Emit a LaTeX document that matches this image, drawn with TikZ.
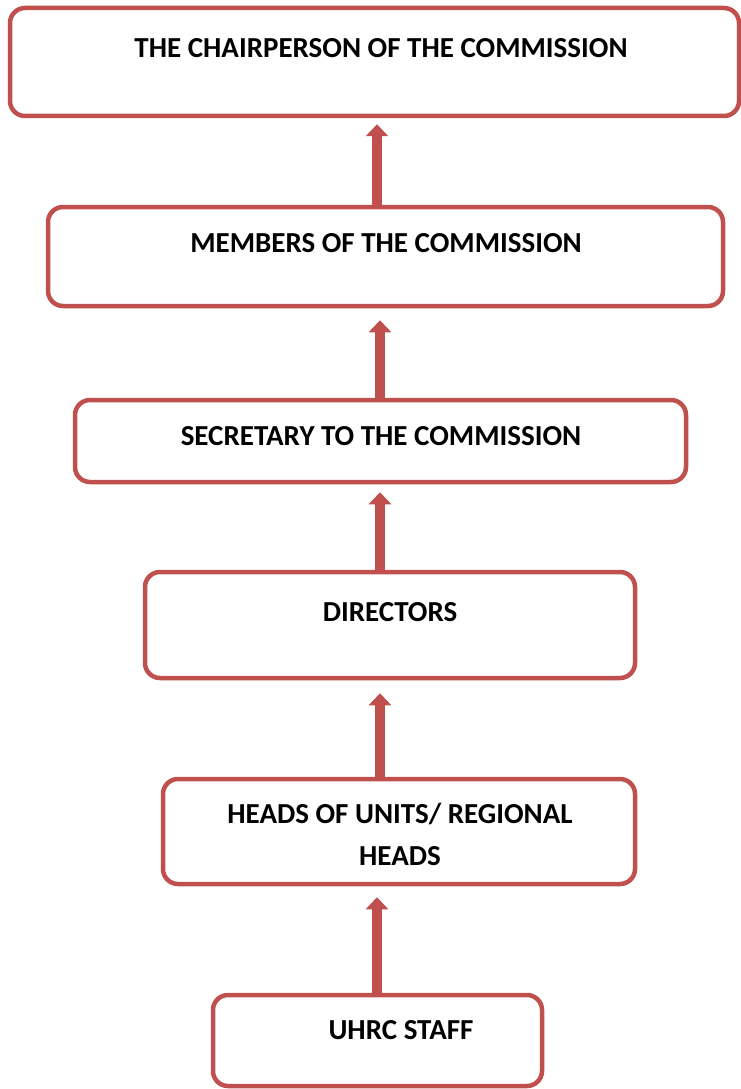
\documentclass[tikz,border=0pt]{standalone}
\usepackage{fontspec}
\setmainfont{Carlito}
\usetikzlibrary{arrows.meta}
\definecolor{boxred}{HTML}{C0504D}

\begin{document}
\begin{tikzpicture}[x=1pt, y=-1pt,
    box/.style={draw=boxred, line width=4.5pt, rounded corners=15pt,
      rectangle, inner sep=0pt},
    boxtext/.style={font=\fontsize{29}{42}\selectfont\bfseries, align=center,
      inner sep=0pt},
    uparrow/.style={draw=boxred, line width=10pt,
      -{Triangle[width=22pt, length=12pt]}, color=boxred}]
  \useasboundingbox (0,0) rectangle (740,1089);

  % boxes
  \node[box, minimum width=729pt, minimum height=108pt] (chair) at (374.5,62) {};
  \node[box, minimum width=675pt, minimum height=99pt] (members) at (385.5,256.5) {};
  \node[box, minimum width=611pt, minimum height=82pt] (secretary) at (380.5,441) {};
  \node[box, minimum width=490pt, minimum height=106pt] (directors) at (390,625) {};
  \node[box, minimum width=472pt, minimum height=105pt] (heads) at (399,831.5) {};
  \node[box, minimum width=329pt, minimum height=91pt] (staff) at (377.5,1040.5) {};

  % texts
  \node[boxtext] (chairtext) at (381,48) {THE CHAIRPERSON OF THE COMMISSION};
  \node[boxtext] (memberstext) at (386,243) {MEMBERS OF THE COMMISSION};
  \node[boxtext] (secretarytext) at (381,436) {SECRETARY TO THE COMMISSION};
  \node[boxtext] (directorstext) at (390,612) {DIRECTORS};
  \node[boxtext] (headstext) at (400,834) {HEADS OF UNITS/ REGIONAL\\HEADS};
  \node[boxtext] (stafftext) at (401,1030) {UHRC STAFF};

  % arrows up the chain
  \foreach \from/\to/\ax/\gap in {members/chair/377/6, secretary/members/380/12,
      directors/secretary/380/8, heads/directors/380/13, staff/heads/377/11} {
    \draw[uparrow, shorten >=\gap pt] (\from.north -| \ax,0) -- (\to.south -| \ax,0);
  }
\end{tikzpicture}
\end{document}
